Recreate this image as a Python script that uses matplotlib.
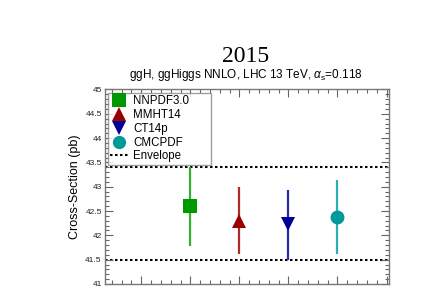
import matplotlib
matplotlib.use("Agg")
import matplotlib.pyplot as plt
from matplotlib.lines import Line2D
from matplotlib.ticker import MultipleLocator, NullFormatter

plt.rcParams['font.family'] = ['Liberation Sans', 'DejaVu Sans']
plt.rcParams['mathtext.fontset'] = 'custom'
plt.rcParams['mathtext.rm'] = 'Liberation Sans'
plt.rcParams['mathtext.it'] = 'Liberation Sans:italic'

labels = ["NNPDF3.0", "MMHT14", "CT14p", "CMCPDF"]
xpos = [1, 2, 3, 4]
central = [42.60, 42.29, 42.24, 42.37]
upper = [43.40, 43.00, 42.94, 43.13]
lower = [41.79, 41.62, 41.50, 41.61]
env_upper = 43.40
env_lower = 41.50

marker_colors = ["#009900", "#990000", "#000099", "#009999"]
line_colors = ["#33b033", "#b02a2a", "#2a2ab0", "#2ab0b0"]
markers = ["s", "^", "v", "o"]
msizes = [10, 10, 10, 10]

fig = plt.figure(figsize=(4.4, 3.05), dpi=100)
ax = fig.add_axes([0.2375, 0.0689, 0.6466, 0.6377])

for x, c, u, l, mc, lc, m, ms in zip(xpos, central, upper, lower, marker_colors,
                                       line_colors, markers, msizes):
    ax.plot([x, x], [l, u], color=lc, lw=1.6, solid_capstyle='butt', zorder=2)
    ax.plot([x], [c], marker=m, color=mc, markersize=ms, markeredgewidth=0, zorder=3)

ax.axhline(env_upper, color='black', ls=(0, (1.2, 1.2)), lw=1.5, zorder=1)
ax.axhline(env_lower, color='black', ls=(0, (1.2, 1.2)), lw=1.5, zorder=1)

ax.set_xlim(-0.75, 5.05)
ax.set_ylim(41, 45)
ax.xaxis.set_major_locator(MultipleLocator(1))
ax.xaxis.set_minor_locator(MultipleLocator(0.2))
ax.xaxis.set_major_formatter(NullFormatter())
ax.yaxis.set_major_locator(MultipleLocator(0.5))
ax.yaxis.set_minor_locator(MultipleLocator(0.1))
ax.set_yticks([41, 41.5, 42, 42.5, 43, 43.5, 44, 44.5, 45])
ax.set_yticklabels(["41", "41.5", "42", "42.5", "43", "43.5", "44", "44.5", "45"])
ax.tick_params(axis='both', which='both', direction='in', top=True, right=True,
               color='#666666', width=0.8)
ax.tick_params(axis='both', which='major', length=6, labelsize=6, pad=2,
               labelcolor='#222222')
ax.tick_params(axis='both', which='minor', length=3)
for s in ax.spines.values():
    s.set_color('#777777')
    s.set_linewidth(1.0)

ax.set_ylabel("Cross-Section (pb)", fontsize=9, labelpad=3)

fig.text(0.558, 0.815, "2015", ha='center', va='center', fontsize=17,
         family=['Liberation Serif', 'DejaVu Serif'])
fig.text(0.558, 0.755, r"ggH, ggHiggs NNLO, LHC 13 TeV, $\alpha_{\rm s}$=0.118",
         ha='center', va='center', fontsize=8.5)

handles = []
for lab, mc, m in zip(labels, marker_colors, markers):
    handles.append(Line2D([], [], ls='none', marker=m, color=mc, markersize=9.5,
                          markeredgewidth=0, label=lab))
handles.append(Line2D([], [], color='black', ls=(0, (1.2, 1.2)), lw=1.5, label="Envelope"))
leg = ax.legend(handles=handles, loc='upper left',
                bbox_to_anchor=(0.0123, 0.6237, 0.3617, 0.3598), mode='expand',
                borderaxespad=0, fontsize=8.3, frameon=True, fancybox=False,
                labelspacing=0.16, handlelength=1.5, handletextpad=0.5,
                borderpad=0.2, edgecolor='#888888')
leg.get_frame().set_linewidth(1.0)

fig.savefig("out.png", dpi=100)
